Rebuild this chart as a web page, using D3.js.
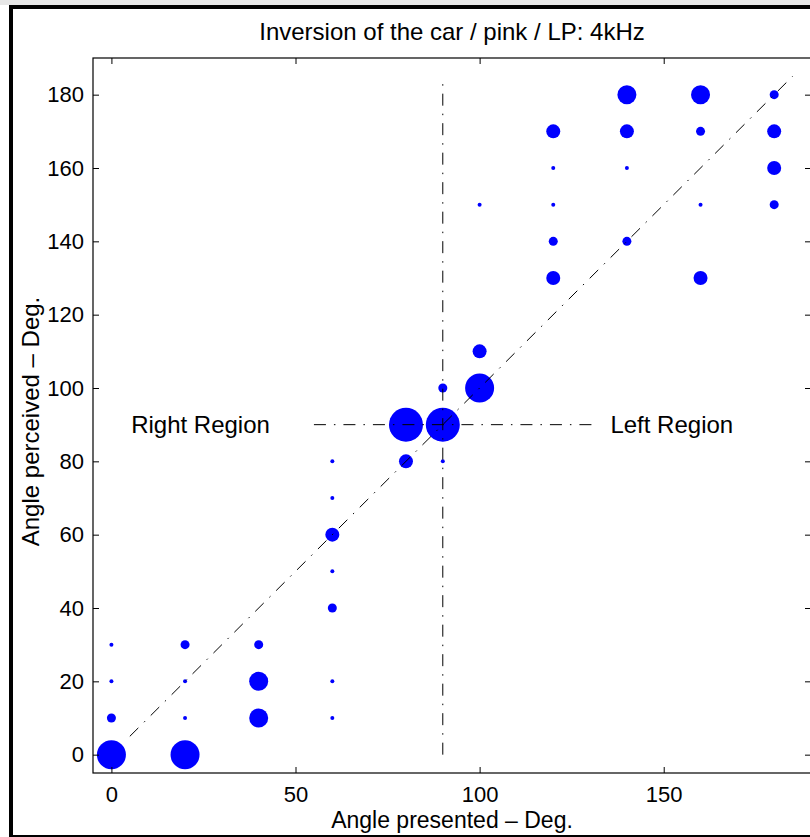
<!DOCTYPE html>
<html>
<head>
<meta charset="utf-8">
<script src="https://cdn.jsdelivr.net/npm/d3@7"></script>
<style>
  html, body { margin: 0; padding: 0; background: #fff; }
  svg { display: block; }
  text { font-family: "Liberation Sans", Arial, Helvetica, sans-serif; fill: #000; }
</style>
</head>
<body>
<svg id="chart" width="810" height="837"></svg>
<script>
// ---- data ----
const presented = [0,0,0,0, 20,20,20,20, 40,40,40, 60,60,60,60,60,60,60, 80,80, 90,90,90, 100,100,100,
  120,120,120,120,120, 140,140,140,140, 160,160,160,160, 180,180,180,180];
const perceived = [0,10,20,30, 0,10,20,30, 10,20,30, 10,20,40,50,60,70,80, 80,90, 80,90,100, 100,110,150,
  130,140,150,160,170, 140,160,170,180, 130,150,170,180, 150,160,170,180];
const counts = [6,2,1,1, 6,1,1,2, 4,4,2, 1,1,2,1,3,1,1, 3,7, 1,7,2, 6,3,1,
  3,2,1,1,3, 2,1,3,4, 3,1,2,4, 2,3,3,2];
const xTicks = [0, 50, 100, 150];
const yTicks = [0, 20, 40, 60, 80, 100, 120, 140, 160, 180];
const xDomain = [-5, 190];
const yDomain = [-5, 190];
const titleText = "Inversion of the car / pink / LP: 4kHz";
const xLabelText = "Angle presented \u2013 Deg.";
const yLabelText = "Angle perceived \u2013 Deg.";
const regionLabels = [{label: "Right Region", x: 24.2, y: 90}, {label: "Left Region", x: 152.2, y: 90}];
const diagLine = [[5, 5], [185, 185]];
const vertLine = [[90, 0], [90, 185]];
const horizLine = [[55, 90], [132, 90]];

// ---- layout ----
const svg = d3.select("#chart");
const W = 810, H = 837;
const mL = 93, mT = 58, mR = 811, mB = 773;

// frame
svg.append("rect").attr("x", 0).attr("y", 0).attr("width", W).attr("height", 5).attr("fill", "#e6e6e6");
svg.append("rect").attr("x", 9).attr("y", 5).attr("width", W - 9).attr("height", 4).attr("fill", "#000");
svg.append("rect").attr("x", 9).attr("y", 5).attr("width", 4).attr("height", H - 5).attr("fill", "#000");
svg.append("rect").attr("x", 9).attr("y", 835).attr("width", W - 9).attr("height", 2).attr("fill", "#000");

const x = d3.scaleLinear().domain(xDomain).range([mL, mR]);
const y = d3.scaleLinear().domain(yDomain).range([mB, mT]);
const r = d3.scaleLinear().domain([1, 7]).range([2, 17]);

// points
const pts = presented.map((p, i) => ({x: p, y: perceived[i], n: counts[i]}));
svg.append("g").selectAll("circle").data(pts).join("circle")
  .attr("cx", d => x(d.x)).attr("cy", d => y(d.y)).attr("r", d => r(d.n))
  .attr("fill", "#0000ff");

// reference lines
const dash = "12,8,1.5,8";
const line = d3.line().x(d => x(d[0])).y(d => y(d[1]));
[diagLine, vertLine, horizLine].forEach(L => {
  svg.append("path").attr("d", line(L)).attr("fill", "none")
    .attr("stroke", "#000").attr("stroke-width", 1).attr("stroke-dasharray", dash);
});

// axes
const tickLen = 6;
const gx = svg.append("g").attr("transform", `translate(0,${mB})`)
  .call(d3.axisBottom(x).tickValues(xTicks).tickSizeInner(-tickLen).tickSizeOuter(0).tickPadding(13));
const gxTop = svg.append("g").attr("transform", `translate(0,${mT})`)
  .call(d3.axisTop(x).tickValues(xTicks).tickSizeInner(-tickLen).tickSizeOuter(0).tickFormat(""));
const gy = svg.append("g").attr("transform", `translate(${mL},0)`)
  .call(d3.axisLeft(y).tickValues(yTicks).tickSizeInner(-tickLen).tickSizeOuter(0).tickPadding(9));
const gyR = svg.append("g").attr("transform", `translate(${mR},0)`)
  .call(d3.axisRight(y).tickValues(yTicks).tickSizeInner(-tickLen).tickSizeOuter(0).tickFormat(""));
[gx, gxTop, gy, gyR].forEach(g => {
  g.select(".domain").remove();
  g.selectAll("line").attr("stroke", "#000").attr("stroke-width", 1);
  g.selectAll("text").attr("font-size", 22).attr("font-family", "Liberation Sans, Arial, sans-serif").attr("fill", "#000");
});
// box
svg.append("rect").attr("x", mL).attr("y", mT).attr("width", mR - mL).attr("height", mB - mT)
  .attr("fill", "none").attr("stroke", "#000").attr("stroke-width", 1.2);

// title & labels
svg.append("text").attr("x", (mL + mR) / 2).attr("y", 40).attr("text-anchor", "middle")
  .attr("font-size", 24).text(titleText);
svg.append("text").attr("x", (mL + mR) / 2).attr("y", 828).attr("text-anchor", "middle")
  .attr("font-size", 23).text(xLabelText);
svg.append("text").attr("transform", `translate(39,${(mT + mB) / 2 + 6}) rotate(-90)`)
  .attr("text-anchor", "middle").attr("font-size", 24).text(yLabelText);

svg.append("g").selectAll("text").data(regionLabels).join("text")
  .attr("x", d => x(d.x)).attr("y", d => y(d.y) + 8).attr("text-anchor", "middle")
  .attr("font-size", 24).text(d => d.label);
</script>
</body>
</html>
